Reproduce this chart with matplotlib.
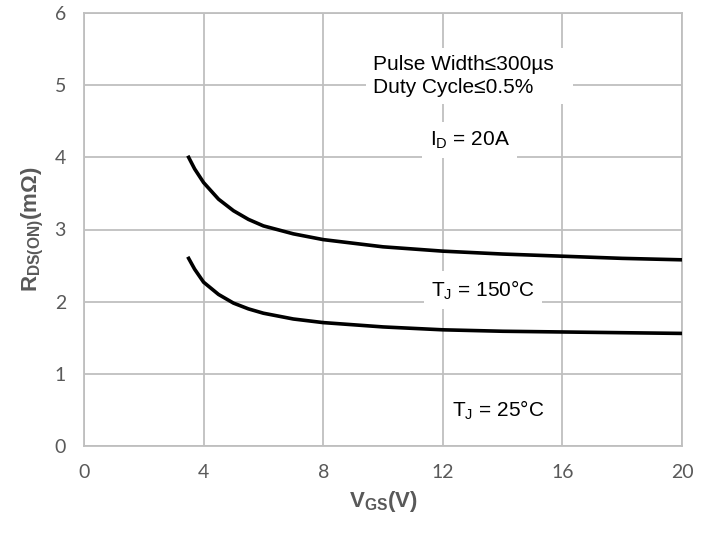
import numpy as np
import matplotlib
matplotlib.use("Agg")
import matplotlib.pyplot as plt

# R_DS(on) vs V_GS, I_D = 20A
vgs = [3.5, 3.7, 4.0, 4.5, 5.0, 5.5, 6.0, 7.0, 8.0, 10.0, 12.0, 14.0, 16.0, 18.0, 20.0]
rds_150 = [4.00, 3.84, 3.65, 3.42, 3.26, 3.14, 3.05, 2.94, 2.86, 2.76, 2.70, 2.66, 2.63, 2.60, 2.58]
rds_25 = [2.60, 2.45, 2.27, 2.10, 1.98, 1.90, 1.84, 1.76, 1.71, 1.65, 1.61, 1.59, 1.58, 1.57, 1.56]

x_ticks = [0, 4, 8, 12, 16, 20]
y_ticks = [0, 1, 2, 3, 4, 5, 6]

plt.rcParams['mathtext.fontset'] = 'custom'
plt.rcParams['mathtext.rm'] = 'Liberation Sans'
plt.rcParams['mathtext.bf'] = 'Liberation Sans:bold'

grid_c = '#bfbfbf'
label_c = '#595959'

fig = plt.figure(figsize=(7.09, 5.35), dpi=100)
ax = fig.add_axes([84 / 709, 1 - 446 / 535, 598 / 709, 433 / 535])

ax.set_xlim(0, 20)
ax.set_ylim(0, 6)
ax.set_xticks(x_ticks)
ax.set_yticks(y_ticks)
ax.grid(True, color=grid_c, linewidth=1.3, zorder=0)
for s in ax.spines.values():
    s.set_color(grid_c)
    s.set_linewidth(1.3)
ax.tick_params(length=0, labelsize=14, labelcolor=label_c, pad=13)
for lbl in ax.get_xticklabels() + ax.get_yticklabels():
    lbl.set_fontfamily('Lato')

ax.plot(vgs, rds_150, color='black', linewidth=2.6, zorder=3)
ax.plot(vgs, rds_25, color='black', linewidth=2.6, zorder=3)

ax.set_xlabel(r'$\mathbf{V_{GS}(V)}$', fontsize=16, color=label_c, labelpad=6)
ax.set_ylabel(r'$\mathbf{R_{DS(ON)}(m\Omega)}$', fontsize=16, color=label_c, labelpad=6)

box = dict(boxstyle='square,pad=0.35', facecolor='white', edgecolor='none')
txt = dict(fontsize=15, fontfamily='Liberation Sans', color='black', zorder=2, bbox=box)
ax.text(9.67, 5.13, 'Pulse Width≤300µs  \nDuty Cycle≤0.5%', ha='left', va='center',
        linespacing=1.25, **txt)
ax.text(12.9, 4.24, r'$\mathrm{I_D}$ = 20A', ha='center', va='center', **txt)
ax.text(13.34, 2.16, r'$\mathrm{T_J}$ = 150°C', ha='center', va='center', **txt)
ax.text(13.85, 0.50, r'$\mathrm{T_J}$ = 25°C', ha='center', va='center', **txt)

fig.savefig('out.png', dpi=100)
